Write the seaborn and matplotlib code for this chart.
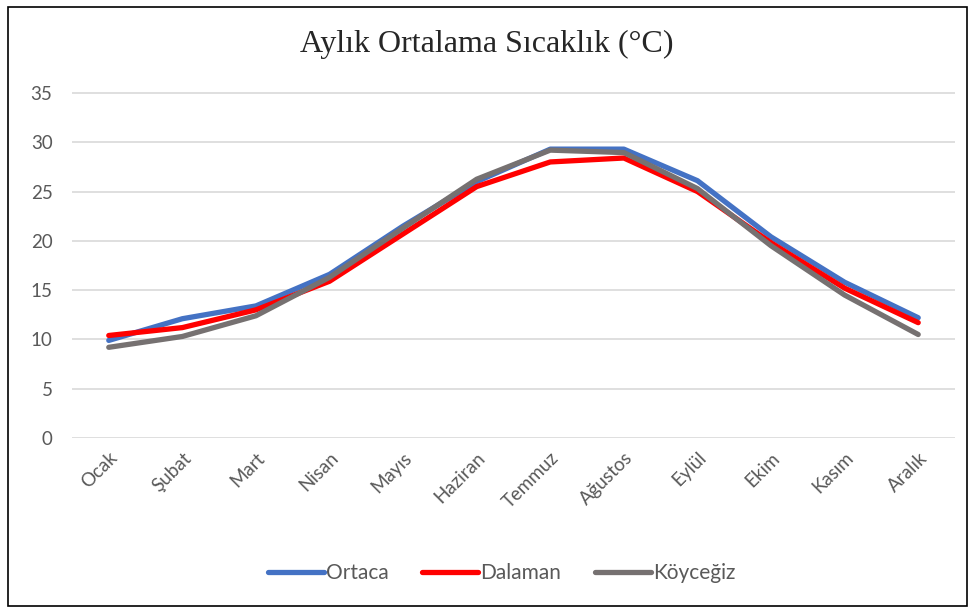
import pandas as pd
import seaborn as sns
import matplotlib.pyplot as plt
from matplotlib.patches import Rectangle

MONTHS = ['Ocak', 'Şubat', 'Mart', 'Nisan', 'Mayıs', 'Haziran',
          'Temmuz', 'Ağustos', 'Eylül', 'Ekim', 'Kasım', 'Aralık']
ORTACA = [9.9, 12.1, 13.4, 16.6, 21.5, 26.0, 29.3, 29.3, 26.1, 20.4, 15.8, 12.2]
DALAMAN = [10.4, 11.2, 13.0, 15.9, 20.7, 25.5, 28.0, 28.4, 25.0, 19.8, 15.2, 11.7]
KOYCEGIZ = [9.2, 10.3, 12.4, 16.3, 21.3, 26.25, 29.2, 28.95, 25.3, 19.5, 14.5, 10.5]
SERIES = ['Ortaca', 'Dalaman', 'Köyceğiz']
COLORS = ['#4472C4', '#FF0000', '#767171']


def main():
    sns.set_style('white')
    plt.rcParams['font.family'] = ['Lato', 'DejaVu Sans']

    rows = []
    for name, vals in zip(SERIES, [ORTACA, DALAMAN, KOYCEGIZ]):
        for i, v in enumerate(vals):
            rows.append({'idx': i, 'temp': v, 'station': name})
    df = pd.DataFrame(rows)

    fig = plt.figure(figsize=(9.74, 6.14), dpi=100)
    ax = fig.add_axes([0.0739, 0.2866, 0.9066, 0.5781])
    sns.lineplot(data=df, x='idx', y='temp', hue='station', hue_order=SERIES,
                 palette=COLORS, linewidth=3.8, ax=ax, legend=True)

    ax.set_xlim(-0.5, 11.5)
    ax.set_ylim(0, 36)
    ax.set_yticks(range(0, 40, 5))
    ax.set_xticks(range(len(MONTHS)))
    ax.set_xticklabels(MONTHS, rotation=45, ha='right', rotation_mode='anchor')
    ax.tick_params(axis='both', labelsize=13.5, colors='#595959', length=0)
    ax.tick_params(axis='x', pad=8)
    ax.tick_params(axis='y', pad=14)
    ax.grid(axis='y', color='#d9d9d9', linewidth=1.2)
    ax.set_axisbelow(True)
    for s in ax.spines.values():
        s.set_visible(False)
    ax.set_xlabel('')
    ax.set_ylabel('')

    handles, labels = ax.get_legend_handles_labels()
    ax.legend_.remove()
    fig.legend(handles, labels, loc='center', bbox_to_anchor=(0.515, 0.067),
               ncol=3, frameon=False, fontsize=15, handlelength=2.7,
               handletextpad=0.1, columnspacing=1.6, labelcolor='#595959')

    fig.text(0.5, 0.927, 'Aylık Ortalama Sıcaklık (°C)', ha='center', va='center',
             fontsize=23, family='Liberation Serif')

    fig.patches.append(Rectangle((0.008, 0.013), 0.985, 0.975, transform=fig.transFigure,
                                 fill=False, edgecolor='black', linewidth=1.2))

    fig.savefig('out.png', dpi=100)
    plt.close(fig)


if __name__ == '__main__':
    main()
